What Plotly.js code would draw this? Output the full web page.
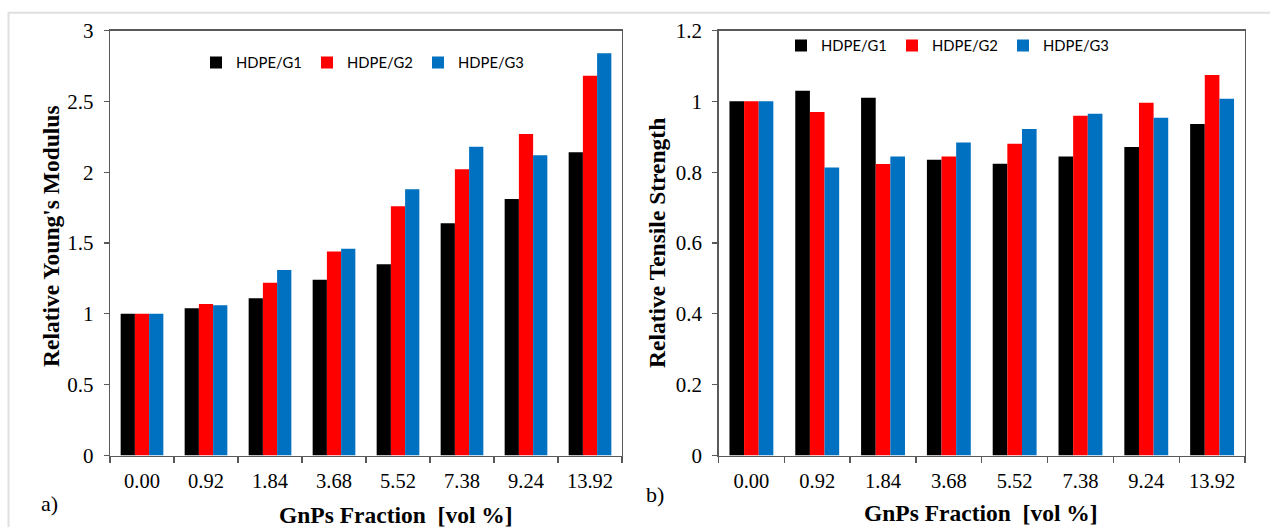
<!DOCTYPE html>
<html>
<head>
<meta charset="utf-8">
<script src="https://cdn.plot.ly/plotly-3.0.1.min.js"></script>
<style>
html,body{margin:0;padding:0;background:#fff;}
#chart{width:1270px;height:527px;}
</style>
</head>
<body>
<div id="chart"></div>
<script>
// ---- data ----
const categories = ['0.00', '0.92', '1.84', '3.68', '5.52', '7.38', '9.24', '13.92'];
const seriesNames = ['HDPE/G1', 'HDPE/G2', 'HDPE/G3'];
const modulusG1 = [1.00, 1.04, 1.11, 1.24, 1.35, 1.64, 1.81, 2.14];
const modulusG2 = [1.00, 1.07, 1.22, 1.44, 1.76, 2.02, 2.27, 2.68];
const modulusG3 = [1.00, 1.06, 1.31, 1.46, 1.88, 2.18, 2.12, 2.84];
const strengthG1 = [1.00, 1.03, 1.01, 0.835, 0.824, 0.844, 0.871, 0.936];
const strengthG2 = [1.00, 0.97, 0.823, 0.844, 0.880, 0.959, 0.996, 1.074];
const strengthG3 = [1.00, 0.813, 0.844, 0.884, 0.922, 0.965, 0.954, 1.007];
const yTicksModulus = [0, 0.5, 1, 1.5, 2, 2.5, 3];
const yTicksStrength = [0, 0.2, 0.4, 0.6, 0.8, 1, 1.2];

const colors = ['#000000', '#FF0000', '#0070C0'];
const W = 1270, H = 527;
const px = v => v / W, py = v => 1 - v / H;

const modulus = [modulusG1, modulusG2, modulusG3];
const strength = [strengthG1, strengthG2, strengthG3];
const traces = [];
modulus.forEach((vals, i) => traces.push({
  type: 'bar', x: categories, y: vals, name: seriesNames[i],
  marker: {color: colors[i]}, xaxis: 'x', yaxis: 'y', legend: 'legend'
}));
strength.forEach((vals, i) => traces.push({
  type: 'bar', x: categories, y: vals, name: seriesNames[i],
  marker: {color: colors[i]}, xaxis: 'x2', yaxis: 'y2', legend: 'legend2'
}));

const serif = 'Liberation Serif, Times New Roman, serif';
const frame = '#595959';
const xBase = {
  type: 'category', showgrid: false, zeroline: false,
  showline: true, linecolor: frame, linewidth: 1.3, mirror: true,
  ticks: 'outside', ticklen: 6, tickcolor: frame, tickwidth: 1.3, tickson: 'boundaries',
  ticklabelstandoff: 7,
  tickfont: {family: serif, size: 20.5, color: '#000'}, fixedrange: true
};
const yBase = {
  showgrid: false, zeroline: false,
  showline: true, linecolor: frame, linewidth: 1.3, mirror: true,
  ticks: 'outside', ticklen: 5, tickcolor: frame, tickwidth: 1.3,
  ticklabelstandoff: 6,
  tickfont: {family: serif, size: 21, color: '#000'}, fixedrange: true
};

const titleFont = {family: serif, size: 23.5, color: '#000', weight: 'bold'};
const legendFont = {family: 'Lato, Carlito, Calibri, sans-serif', size: 14.8, color: '#000'};

const layout = {
  width: W, height: H,
  margin: {l: 0, r: 0, t: 0, b: 0},
  paper_bgcolor: '#fff', plot_bgcolor: '#fff',
  barmode: 'group', bargap: 0.333, bargroupgap: 0,
  xaxis: Object.assign({}, xBase, {domain: [px(110), px(622)], anchor: 'y'}),
  yaxis: Object.assign({}, yBase, {domain: [py(455.5), py(30.5)], anchor: 'x', range: [0, 3], tickvals: yTicksModulus}),
  xaxis2: Object.assign({}, xBase, {domain: [px(718.5), px(1245)], anchor: 'y2'}),
  yaxis2: Object.assign({}, yBase, {domain: [py(455.5), py(30.5)], anchor: 'x2', range: [0, 1.2], tickvals: yTicksStrength}),
  legend: {orientation: 'h', x: px(196), y: py(63), xanchor: 'left', yanchor: 'middle',
    bgcolor: 'rgba(0,0,0,0)', font: legendFont, entrywidth: 66, traceorder: 'normal'},
  legend2: {orientation: 'h', x: px(781), y: py(46), xanchor: 'left', yanchor: 'middle',
    bgcolor: 'rgba(0,0,0,0)', font: legendFont, entrywidth: 66, traceorder: 'normal'},
  annotations: [
    {text: "Relative Young's Modulus", xref: 'paper', yref: 'paper', x: px(51), y: py(236), textangle: -90,
      showarrow: false, font: titleFont, xanchor: 'center', yanchor: 'middle'},
    {text: 'Relative Tensile Strength', xref: 'paper', yref: 'paper', x: px(657), y: py(243), textangle: -90,
      showarrow: false, font: titleFont, xanchor: 'center', yanchor: 'middle'},
    {text: 'GnPs Fraction  [vol %]', xref: 'paper', yref: 'paper', x: px(396), y: py(515),
      showarrow: false, font: titleFont, xanchor: 'center', yanchor: 'middle'},
    {text: 'GnPs Fraction  [vol %]', xref: 'paper', yref: 'paper', x: px(981), y: py(513),
      showarrow: false, font: titleFont, xanchor: 'center', yanchor: 'middle'},
    {text: 'a)', xref: 'paper', yref: 'paper', x: px(49), y: py(503),
      showarrow: false, font: {family: serif, size: 22, color: '#000'}, xanchor: 'center', yanchor: 'middle'},
    {text: 'b)', xref: 'paper', yref: 'paper', x: px(655), y: py(494),
      showarrow: false, font: {family: serif, size: 22, color: '#000'}, xanchor: 'center', yanchor: 'middle'}
  ],
  shapes: [
    {type: 'rect', xref: 'paper', yref: 'paper', x0: px(8.5), x1: 1.05, y0: -0.05, y1: py(12.7),
      line: {color: '#e0e0e0', width: 2}, fillcolor: 'rgba(0,0,0,0)', layer: 'below'}
  ]
};

Plotly.newPlot('chart', traces, layout, {displayModeBar: false, staticPlot: true});
</script>
</body>
</html>
